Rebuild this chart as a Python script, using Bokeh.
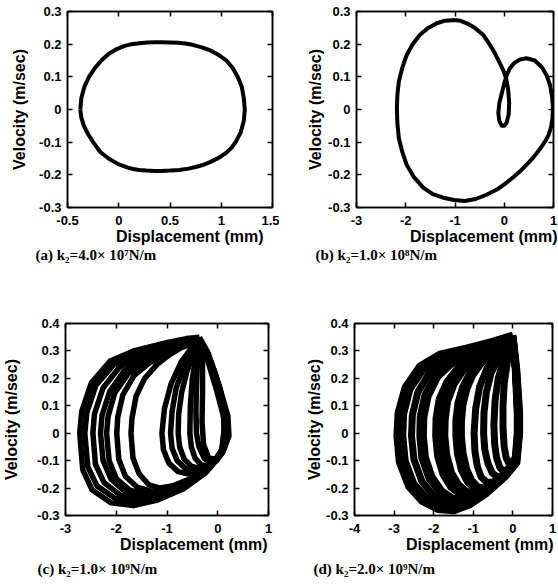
from bokeh.plotting import figure
from bokeh.models import Range1d, FixedTicker, LinearAxis, Title, CustomJSTickFormatter
from bokeh.layouts import column, row
from bokeh.embed import file_html
from bokeh.resources import INLINE

# ---------------- data ----------------
# (a) k2 = 4.0e7 N/m : single closed orbit
a_x = [-0.375, -0.365, -0.335, -0.29, -0.23, -0.17, -0.1, -0.02, 0.05, 0.125, 0.2, 0.28, 0.35, 0.42, 0.5, 0.58, 0.65,
       0.72, 0.81, 0.9, 0.98, 1.05, 1.11, 1.16, 1.2, 1.22, 1.23,
       1.22, 1.19, 1.14, 1.1, 1.05, 1.0, 0.95, 0.89, 0.82, 0.75, 0.68, 0.59, 0.5, 0.42, 0.35, 0.27, 0.2, 0.14, 0.09,
       0.0, -0.1, -0.18, -0.25, -0.3, -0.34, -0.365, -0.375]
a_v = [0.0, 0.035, 0.07, 0.1, 0.128, 0.15, 0.17, 0.185, 0.194, 0.2, 0.203, 0.205, 0.206, 0.206, 0.205, 0.204, 0.202,
       0.198, 0.19, 0.18, 0.166, 0.15, 0.128, 0.1, 0.07, 0.035, 0.0,
       -0.035, -0.07, -0.1, -0.117, -0.132, -0.143, -0.152, -0.161, -0.17, -0.176, -0.181, -0.185, -0.187, -0.188,
       -0.188, -0.187, -0.185, -0.182, -0.178, -0.168, -0.15, -0.13, -0.1, -0.075, -0.05, -0.025, 0.0]

# (b) k2 = 1.0e8 N/m : period-2 orbit with small loop
b_x = [-1.0, -1.2, -1.37, -1.55, -1.71, -1.86, -1.98, -2.07, -2.14, -2.17, -2.18, -2.17, -2.14, -2.07, -1.98,
       -1.83, -1.64, -1.45, -1.24, -1.02, -0.8, -0.58, -0.36, -0.15, 0.04, 0.2, 0.35, 0.48, 0.6, 0.72,
       0.82, 0.9, 0.95, 0.98, 0.99, 0.97, 0.93, 0.86, 0.76, 0.62, 0.45, 0.32, 0.2, 0.11, 0.05,
       0.0, -0.05, -0.1, -0.12, -0.1, -0.05, 0.0, 0.05, 0.09, 0.1, 0.08, 0.04, -0.02, -0.1, -0.2,
       -0.3, -0.43, -0.6, -0.76, -0.9, -1.0]
b_v = [0.274, 0.272, 0.264, 0.249, 0.229, 0.2, 0.167, 0.128, 0.086, 0.045, 0.004, -0.042, -0.088, -0.13, -0.17,
       -0.208, -0.24, -0.259, -0.27, -0.277, -0.28, -0.274, -0.261, -0.245, -0.225, -0.205, -0.185, -0.165, -0.145, -0.122,
       -0.1, -0.078, -0.055, -0.025, 0.005, 0.04, 0.075, 0.105, 0.13, 0.15, 0.157, 0.153, 0.142, 0.125, 0.105,
       0.08, 0.05, 0.02, -0.01, -0.035, -0.05, -0.05, -0.04, -0.015, 0.02, 0.06, 0.095, 0.12, 0.145, 0.175,
       0.2, 0.229, 0.25, 0.264, 0.272, 0.274]

# (c) k2 = 1.0e9 N/m : chaotic attractor, drawn as successive loops
c_loops_x = [
    [-0.36, -0.62, -1.01, -1.66, -2.12, -2.49, -2.68, -2.72, -2.66, -2.48, -2.1, -1.66, -1.21, -0.68, -0.23, 0.1, 0.22, 0.2, 0.03, -0.19, -0.36],
    [-0.36, -0.65, -1.02, -1.62, -2.05, -2.4, -2.58, -2.62, -2.56, -2.38, -2.02, -1.6, -1.17, -0.66, -0.22, 0.09, 0.21, 0.18, 0.02, -0.2, -0.36],
    [-0.36, -0.68, -1.03, -1.55, -1.95, -2.26, -2.43, -2.46, -2.41, -2.24, -1.92, -1.53, -1.12, -0.63, -0.21, 0.09, 0.2, 0.17, 0.01, -0.2, -0.36],
    [-0.36, -0.7, -1.04, -1.5, -1.85, -2.13, -2.28, -2.31, -2.26, -2.1, -1.82, -1.48, -1.08, -0.6, -0.2, 0.08, 0.19, 0.16, 0.0, -0.21, -0.36],
    [-0.36, -0.72, -1.03, -1.44, -1.76, -2.03, -2.16, -2.19, -2.14, -2.0, -1.73, -1.41, -1.04, -0.58, -0.19, 0.08, 0.18, 0.15, 0.0, -0.21, -0.36],
    [-0.36, -0.72, -1.0, -1.36, -1.65, -1.87, -1.97, -1.99, -1.95, -1.82, -1.58, -1.29, -0.96, -0.54, -0.18, 0.07, 0.17, 0.14, -0.01, -0.21, -0.36],
    [-0.36, -0.72, -0.96, -1.2, -1.44, -1.61, -1.69, -1.71, -1.67, -1.55, -1.36, -1.13, -0.86, -0.49, -0.16, 0.07, 0.16, 0.13, -0.02, -0.22, -0.36],
    [-0.36, -0.52, -0.72, -0.92, -1.05, -1.1, -1.07, -0.96, -0.78, -0.55, -0.3, -0.05, 0.12, 0.16, 0.11, -0.02, -0.2, -0.36],
    [-0.36, -0.5, -0.66, -0.82, -0.9, -0.93, -0.9, -0.8, -0.64, -0.45, -0.25, -0.03, 0.12, 0.15, 0.1, -0.03, -0.2, -0.36],
    [-0.36, -0.47, -0.6, -0.71, -0.77, -0.78, -0.75, -0.66, -0.52, -0.36, -0.18, 0.0, 0.12, 0.15, 0.1, -0.03, -0.2, -0.36],
    [-0.36, -0.43, -0.5, -0.54, -0.55, -0.52, -0.45, -0.33, -0.2, -0.05, 0.08, 0.13, 0.1, -0.03, -0.2, -0.36],
    [-0.36, -0.4, -0.42, -0.43, -0.42, -0.37, -0.27, -0.15, -0.02, 0.09, 0.13, 0.1, -0.03, -0.2, -0.36],
    [-0.36, -0.3, -0.3, -0.31, -0.28, -0.18, -0.04, 0.08, 0.13, 0.12, 0.06, -0.05, -0.2, -0.36],
]
c_loops_v = [
    [0.35, 0.345, 0.33, 0.3, 0.263, 0.184, 0.08, 0.0, -0.133, -0.206, -0.254, -0.264, -0.245, -0.203, -0.143, -0.07, -0.01, 0.063, 0.172, 0.293, 0.35],
    [0.345, 0.338, 0.322, 0.29, 0.25, 0.175, 0.075, 0.0, -0.122, -0.192, -0.238, -0.25, -0.233, -0.195, -0.138, -0.07, -0.01, 0.06, 0.168, 0.29, 0.345],
    [0.342, 0.332, 0.314, 0.28, 0.238, 0.165, 0.07, 0.0, -0.113, -0.18, -0.226, -0.238, -0.223, -0.187, -0.134, -0.07, -0.01, 0.058, 0.165, 0.288, 0.342],
    [0.34, 0.328, 0.306, 0.268, 0.226, 0.152, 0.065, 0.0, -0.1, -0.168, -0.214, -0.228, -0.213, -0.18, -0.13, -0.07, -0.01, 0.055, 0.162, 0.285, 0.34],
    [0.338, 0.324, 0.3, 0.262, 0.218, 0.147, 0.062, 0.0, -0.1, -0.165, -0.208, -0.222, -0.208, -0.175, -0.128, -0.07, -0.01, 0.055, 0.16, 0.283, 0.338],
    [0.336, 0.318, 0.292, 0.255, 0.21, 0.14, 0.06, 0.0, -0.095, -0.157, -0.198, -0.212, -0.2, -0.17, -0.126, -0.07, -0.01, 0.055, 0.158, 0.28, 0.336],
    [0.334, 0.312, 0.285, 0.25, 0.2, 0.135, 0.055, 0.0, -0.09, -0.148, -0.188, -0.2, -0.19, -0.163, -0.122, -0.07, -0.01, 0.05, 0.155, 0.278, 0.334],
    [0.34, 0.31, 0.26, 0.18, 0.09, 0.0, -0.06, -0.11, -0.14, -0.15, -0.135, -0.1, -0.05, 0.02, 0.1, 0.19, 0.28, 0.34],
    [0.34, 0.3, 0.245, 0.165, 0.08, 0.0, -0.055, -0.1, -0.128, -0.138, -0.125, -0.095, -0.05, 0.02, 0.1, 0.19, 0.28, 0.34],
    [0.34, 0.29, 0.23, 0.15, 0.07, 0.0, -0.05, -0.095, -0.12, -0.128, -0.118, -0.09, -0.05, 0.02, 0.1, 0.19, 0.28, 0.34],
    [0.34, 0.28, 0.2, 0.1, 0.0, -0.05, -0.09, -0.115, -0.12, -0.1, -0.06, 0.02, 0.1, 0.19, 0.28, 0.34],
    [0.34, 0.26, 0.17, 0.08, 0.0, -0.05, -0.09, -0.11, -0.1, -0.06, 0.02, 0.1, 0.19, 0.28, 0.34],
    [0.34, 0.26, 0.15, 0.04, -0.04, -0.09, -0.095, -0.06, 0.0, 0.07, 0.15, 0.22, 0.29, 0.34],
]

# (d) k2 = 2.0e9 N/m : denser chaotic attractor
d_loops_x = [
    [0.0, -0.52, -1.18, -1.85, -2.35, -2.72, -2.9, -2.93, -2.87, -2.63, -2.3, -1.9, -1.5, -1.1, -0.65, -0.18, 0.1, 0.17, 0.17, 0.1, 0.0],
    [0.0, -0.55, -1.2, -1.8, -2.25, -2.6, -2.76, -2.78, -2.72, -2.5, -2.18, -1.82, -1.45, -1.07, -0.63, -0.18, 0.09, 0.16, 0.16, 0.09, 0.0],
    [0.0, -0.58, -1.2, -1.72, -2.1, -2.4, -2.54, -2.56, -2.5, -2.3, -2.02, -1.7, -1.36, -1.0, -0.6, -0.17, 0.09, 0.16, 0.15, 0.08, 0.0],
    [0.0, -0.6, -1.18, -1.62, -1.96, -2.22, -2.34, -2.35, -2.3, -2.12, -1.86, -1.57, -1.26, -0.93, -0.56, -0.16, 0.08, 0.15, 0.15, 0.08, 0.0],
    [0.0, -0.6, -1.15, -1.57, -1.9, -2.14, -2.25, -2.26, -2.21, -2.04, -1.8, -1.52, -1.22, -0.9, -0.54, -0.16, 0.08, 0.15, 0.15, 0.08, 0.0],
    [0.0, -0.6, -1.05, -1.4, -1.66, -1.86, -1.94, -1.95, -1.9, -1.76, -1.56, -1.32, -1.06, -0.78, -0.47, -0.14, 0.08, 0.14, 0.14, 0.08, 0.0],
    [0.0, -0.6, -1.0, -1.33, -1.57, -1.75, -1.82, -1.83, -1.78, -1.65, -1.46, -1.24, -1.0, -0.74, -0.45, -0.14, 0.08, 0.14, 0.14, 0.08, 0.0],
    [0.0, -0.58, -0.96, -1.26, -1.48, -1.65, -1.71, -1.72, -1.67, -1.55, -1.37, -1.17, -0.95, -0.7, -0.43, -0.13, 0.08, 0.14, 0.14, 0.08, 0.0],
    [0.0, -0.52, -0.85, -1.1, -1.27, -1.39, -1.44, -1.44, -1.4, -1.3, -1.15, -0.98, -0.8, -0.6, -0.37, -0.12, 0.07, 0.13, 0.13, 0.07, 0.0],
    [0.0, -0.5, -0.8, -1.02, -1.16, -1.26, -1.3, -1.3, -1.26, -1.17, -1.04, -0.89, -0.73, -0.55, -0.34, -0.11, 0.07, 0.13, 0.13, 0.07, 0.0],
    [0.0, -0.4, -0.66, -0.84, -0.94, -0.98, -0.96, -0.9, -0.8, -0.66, -0.5, -0.3, -0.1, 0.07, 0.12, 0.12, 0.07, 0.0],
    [0.0, -0.33, -0.55, -0.67, -0.73, -0.74, -0.71, -0.63, -0.52, -0.39, -0.24, -0.07, 0.07, 0.12, 0.12, 0.07, 0.0],
    [0.0, -0.22, -0.37, -0.45, -0.48, -0.46, -0.41, -0.33, -0.23, -0.11, 0.0, 0.08, 0.12, 0.12, 0.07, 0.0],
    [0.0, -0.14, -0.22, -0.25, -0.25, -0.22, -0.17, -0.1, -0.02, 0.06, 0.11, 0.11, 0.06, 0.0],
]
d_loops_v = [
    [0.358, 0.335, 0.31, 0.288, 0.245, 0.168, 0.074, -0.01, -0.105, -0.195, -0.248, -0.278, -0.283, -0.262, -0.218, -0.157, -0.108, 0.0, 0.074, 0.23, 0.358],
    [0.355, 0.33, 0.303, 0.278, 0.235, 0.16, 0.07, -0.01, -0.1, -0.185, -0.236, -0.265, -0.27, -0.25, -0.21, -0.152, -0.106, 0.0, 0.074, 0.23, 0.355],
    [0.352, 0.325, 0.296, 0.266, 0.222, 0.15, 0.065, -0.01, -0.095, -0.175, -0.225, -0.253, -0.258, -0.24, -0.202, -0.148, -0.105, 0.0, 0.074, 0.23, 0.352],
    [0.35, 0.32, 0.29, 0.256, 0.21, 0.14, 0.06, -0.01, -0.09, -0.165, -0.214, -0.242, -0.247, -0.23, -0.195, -0.145, -0.104, 0.0, 0.074, 0.23, 0.35],
    [0.35, 0.318, 0.286, 0.25, 0.205, 0.135, 0.058, -0.01, -0.088, -0.16, -0.21, -0.237, -0.242, -0.226, -0.192, -0.143, -0.104, 0.0, 0.074, 0.23, 0.35],
    [0.348, 0.312, 0.276, 0.236, 0.19, 0.125, 0.055, -0.01, -0.085, -0.152, -0.198, -0.224, -0.23, -0.215, -0.183, -0.138, -0.102, 0.0, 0.074, 0.23, 0.348],
    [0.347, 0.31, 0.272, 0.232, 0.185, 0.12, 0.052, -0.01, -0.083, -0.148, -0.193, -0.218, -0.224, -0.21, -0.18, -0.136, -0.1, 0.0, 0.074, 0.23, 0.347],
    [0.346, 0.308, 0.268, 0.227, 0.18, 0.116, 0.05, -0.01, -0.08, -0.144, -0.188, -0.212, -0.218, -0.205, -0.176, -0.134, -0.1, 0.0, 0.074, 0.23, 0.346],
    [0.344, 0.302, 0.258, 0.215, 0.168, 0.108, 0.046, -0.01, -0.075, -0.135, -0.177, -0.2, -0.206, -0.195, -0.17, -0.13, -0.098, 0.0, 0.074, 0.23, 0.344],
    [0.343, 0.3, 0.254, 0.21, 0.163, 0.104, 0.044, -0.01, -0.072, -0.13, -0.172, -0.195, -0.2, -0.19, -0.166, -0.128, -0.097, 0.0, 0.074, 0.23, 0.343],
    [0.342, 0.29, 0.235, 0.17, 0.09, 0.0, -0.065, -0.12, -0.16, -0.18, -0.178, -0.158, -0.125, -0.096, 0.0, 0.074, 0.23, 0.342],
    [0.34, 0.28, 0.22, 0.15, 0.075, 0.0, -0.06, -0.11, -0.145, -0.16, -0.155, -0.122, -0.095, 0.0, 0.074, 0.23, 0.34],
    [0.34, 0.27, 0.2, 0.12, 0.03, -0.04, -0.09, -0.125, -0.14, -0.13, -0.11, -0.094, 0.0, 0.074, 0.23, 0.34],
    [0.34, 0.26, 0.18, 0.1, 0.02, -0.05, -0.09, -0.11, -0.105, -0.09, 0.0, 0.074, 0.23, 0.34],
]

# axes ticks and labels
xt_a = [-0.5, 0, 0.5, 1, 1.5]
xl_a = ["-0.5", "0", "0.5", "1", "1.5"]
xt_bc = [-3, -2, -1, 0, 1]
xl_bc = ["-3", "-2", "-1", "0", "1"]
xt_d = [-4, -3, -2, -1, 0, 1]
xl_d = ["-4", "-3", "-2", "-1", "0", "1"]
yt_ab = [-0.3, -0.2, -0.1, 0, 0.1, 0.2, 0.3]
yl_ab = ["-0.3", "-0.2", "-0.1", "0", "0.1", "0.2", "0.3"]
yt_cd = [-0.3, -0.2, -0.1, 0, 0.1, 0.2, 0.3, 0.4]
yl_cd = ["-0.3", "-0.2", "-0.1", "0", "0.1", "0.2", "0.3", "0.4"]

captions = ["(a) k\u2082=4.0\u00d7 10\u2077N/m", "(b) k\u2082=1.0\u00d7 10\u2078N/m",
            "(c) k\u2082=1.0\u00d7 10\u2079N/m", "(d) k\u2082=2.0\u00d7 10\u2079N/m"]
x_title = "Displacement (mm)"
y_title = "Velocity (m/sec)"

SANS = "Liberation Sans"
SERIF = "Liberation Serif"


def fmt(ticks, labels):
    return CustomJSTickFormatter(args=dict(tv=ticks, tl=labels), code="""
        for (let i = 0; i < tv.length; i++) { if (Math.abs(tv[i] - tick) < 1e-9) return tl[i]; }
        return '';
    """)


def blank_fmt():
    return CustomJSTickFormatter(code="return '';")


def make_fig(xr, yr, xt, xl, yt, yl, bl, br, bt, bb, caption, cap_off, cap_standoff, cap_valign,
             xt_off, y_standoff):
    p = figure(width=279, height=292, x_range=Range1d(*xr), y_range=Range1d(*yr),
               output_backend="svg", toolbar_location=None,
               min_border_left=bl, min_border_right=br, min_border_top=bt, min_border_bottom=bb)
    p.grid.visible = False
    p.outline_line_color = "black"
    p.outline_line_width = 1.5
    p.background_fill_color = "white"
    p.border_fill_color = "white"
    for ax, tk, lb in ((p.xaxis[0], xt, xl), (p.yaxis[0], yt, yl)):
        ax.ticker = FixedTicker(ticks=tk)
        ax.formatter = fmt(tk, lb)
        ax.major_tick_in = 5
        ax.major_tick_out = 0
        ax.minor_tick_line_color = None
        ax.axis_line_width = 1.5
        ax.major_tick_line_width = 1.5
        ax.major_label_text_font = SANS
        ax.major_label_text_font_style = "bold"
        ax.major_label_text_font_size = "13px"
        ax.major_label_text_color = "black"
    p.xaxis[0].major_label_standoff = 8
    p.yaxis[0].major_label_standoff = 6
    yax = p.yaxis[0]
    yax.axis_label = y_title
    yax.axis_label_standoff = y_standoff
    yax.axis_label_text_font = SANS
    yax.axis_label_text_font_style = "bold"
    yax.axis_label_text_font_size = "16px"
    yax.axis_label_text_color = "black"
    top = LinearAxis(ticker=FixedTicker(ticks=xt), formatter=blank_fmt(), major_tick_in=5, major_tick_out=0,
                     minor_tick_line_color=None, major_label_text_color=None,
                     major_label_standoff=0, axis_line_width=1.5, major_tick_line_width=1.5)
    right = LinearAxis(ticker=FixedTicker(ticks=yt), formatter=blank_fmt(), major_tick_in=5, major_tick_out=0,
                       minor_tick_line_color=None, major_label_text_color=None,
                       major_label_standoff=0, axis_line_width=1.5, major_tick_line_width=1.5)
    p.add_layout(top, "above")
    p.add_layout(right, "right")
    p.add_layout(Title(text=x_title, align="right", offset=xt_off, standoff=0, vertical_align="top",
                       text_font=SANS, text_font_style="bold", text_font_size="16px",
                       text_color="black"), "below")
    p.add_layout(Title(text=caption, align="left", offset=cap_off, standoff=cap_standoff,
                       vertical_align=cap_valign, text_font=SERIF, text_font_style="bold",
                       text_font_size="15px", text_color="black"), "below")
    return p


pa = make_fig((-0.5, 1.5), (-0.3, 0.3), xt_a, xl_a, yt_ab, yl_ab, 67, 7, 11, 85,
              captions[0], -32, 0, "top", 9, 8)
pa.line(a_x, a_v, line_color="black", line_width=4, line_join="round")

pb = make_fig((-3, 1), (-0.3, 0.3), xt_bc, xl_bc, yt_ab, yl_ab, 77, 5, 11, 85,
              captions[1], -41, 0, "top", -4, 1)
pb.line(b_x, b_v, line_color="black", line_width=4, line_join="round")

pc = make_fig((-3, 1), (-0.3, 0.4), xt_bc, xl_bc, yt_cd, yl_cd, 65, 11, 31, 69,
              captions[2], -28, 8, "bottom", 1, 14)
pc.multi_line(c_loops_x, c_loops_v, line_color="black", line_width=5.5, line_join="round")

pd = make_fig((-4, 1), (-0.3, 0.4), xt_d, xl_d, yt_cd, yl_cd, 75, 6, 31, 69,
              captions[3], -41, 8, "bottom", -1, 0)
pd.multi_line(d_loops_x, d_loops_v, line_color="black", line_width=7, line_join="round")

layout = column(row(pa, pb), row(pc, pd))
open("out.html", "w").write(file_html(layout, INLINE))
